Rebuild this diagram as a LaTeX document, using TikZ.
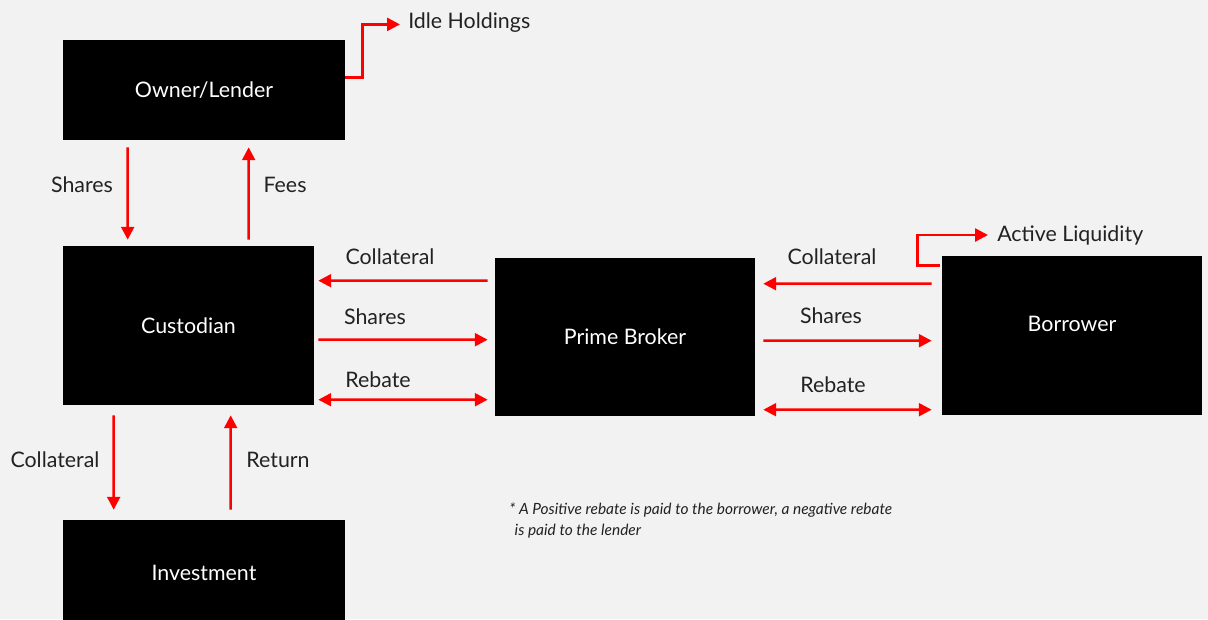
\documentclass[tikz,border=0pt]{standalone}
\usepackage{fontspec}
\setmainfont{Lato}
\usetikzlibrary{arrows.meta, positioning}

\definecolor{bgcol}{HTML}{F2F2F2}
\definecolor{txtcol}{HTML}{222222}
\definecolor{flowred}{HTML}{FF0000}

\begin{document}
\begin{tikzpicture}[
    x=0.025cm, y=-0.025cm,
    font=\fontsize{15.2}{18}\selectfont,
    party/.style = {rectangle, fill=black, text=white, inner sep=0pt},
    lbl/.style = {text=txtcol, inner sep=0pt},
    arrow/.style = {-{Triangle[length=0.32cm, width=0.32cm]}, draw=flowred, line width=1.8pt},
    twoway/.style = {{Triangle[length=0.32cm, width=0.32cm]}-{Triangle[length=0.32cm, width=0.32cm]}, draw=flowred, line width=1.8pt}
]
\useasboundingbox (0,0) rectangle (1208,619);
\clip (0,0) rectangle (1208,619);
\fill[bgcol] (0,0) rectangle (1208,619);

% parties
\node[party, minimum width=7.05cm, minimum height=2.5cm] (owner) at (204,90) {Owner/Lender};
\node[party, minimum width=6.275cm, minimum height=3.975cm] (cust) at (188.5,325.5) {Custodian};
\node[party, minimum width=7.05cm, minimum height=2.625cm] (inv) at (204,572.5) {Investment};
\node[party, minimum width=6.5cm, minimum height=3.95cm] (pb) at (625,337) {Prime Broker};
\node[party, minimum width=6.5cm, minimum height=3.975cm, text depth=0.6cm] (bor) at (1072,335.5) {Borrower};

% outside text
\node[lbl, anchor=west] (idle) at (408,23) {Idle Holdings};
\node[lbl, anchor=west] (active) at (997,235) {Active Liquidity};
\node[lbl, anchor=north west, align=left, font=\fontsize{11}{14.5}\selectfont\itshape] (note) at (509,503)
    {* A Positive rebate is paid to the borrower, a negative rebate\\\hspace{0.35em}is paid to the lender};

% owner <-> custodian
\draw[arrow] ([shift={(65,7)}]owner.south west) -- ([shift={(65,-6)}]cust.north west);
\draw[arrow] ([shift={(186,-6)}]cust.north west) -- ([shift={(186,7)}]owner.south west);
\node[lbl] (sharesA) at (82,185) {Shares};
\node[lbl] (fees) at (285,185) {Fees};

% custodian <-> investment
\draw[arrow] ([shift={(51,10)}]cust.south west) -- ([shift={(51,-10)}]inv.north west);
\draw[arrow] ([shift={(168,-10)}]inv.north west) -- ([shift={(168,10)}]cust.south west);
\node[lbl] (collA) at (55,460) {Collateral};
\node[lbl] (ret) at (278,460) {Return};

% custodian <-> prime broker
\draw[arrow] ([shift={(-7,23)}]pb.north west) -- ([shift={(4,35)}]cust.north east);
\draw[arrow] ([shift={(4,94)}]cust.north east) -- ([shift={(-7,82)}]pb.north west);
\draw[twoway] ([shift={(4,154)}]cust.north east) -- ([shift={(-7,142)}]pb.north west);
\node[lbl] (collB) at (390,257) {Collateral};
\node[lbl] (sharesB) at (375,317) {Shares};
\node[lbl] (rebB) at (378,380) {Rebate};

% prime broker <-> borrower
\draw[arrow] ([shift={(-10,28)}]bor.north west) -- ([shift={(8,26)}]pb.north east);
\draw[arrow] ([shift={(8,83)}]pb.north east) -- ([shift={(-10,85)}]bor.north west);
\draw[twoway] ([shift={(8,152)}]pb.north east) -- ([shift={(-10,154)}]bor.north west);
\node[lbl] (collC) at (832,257) {Collateral};
\node[lbl] (sharesC) at (831,316) {Shares};
\node[lbl] (rebC) at (833,385) {Rebate};

% side flows
\draw[arrow] ([shift={(0,38)}]owner.north east) -- ++(17,0) |- ([xshift=-0.2cm, yshift=-1pt]idle.west);
\draw[arrow] ([shift={(-2,10)}]bor.north west) -- ++(-22,0) |- ([xshift=-0.225cm]active.west);

\end{tikzpicture}
\end{document}
